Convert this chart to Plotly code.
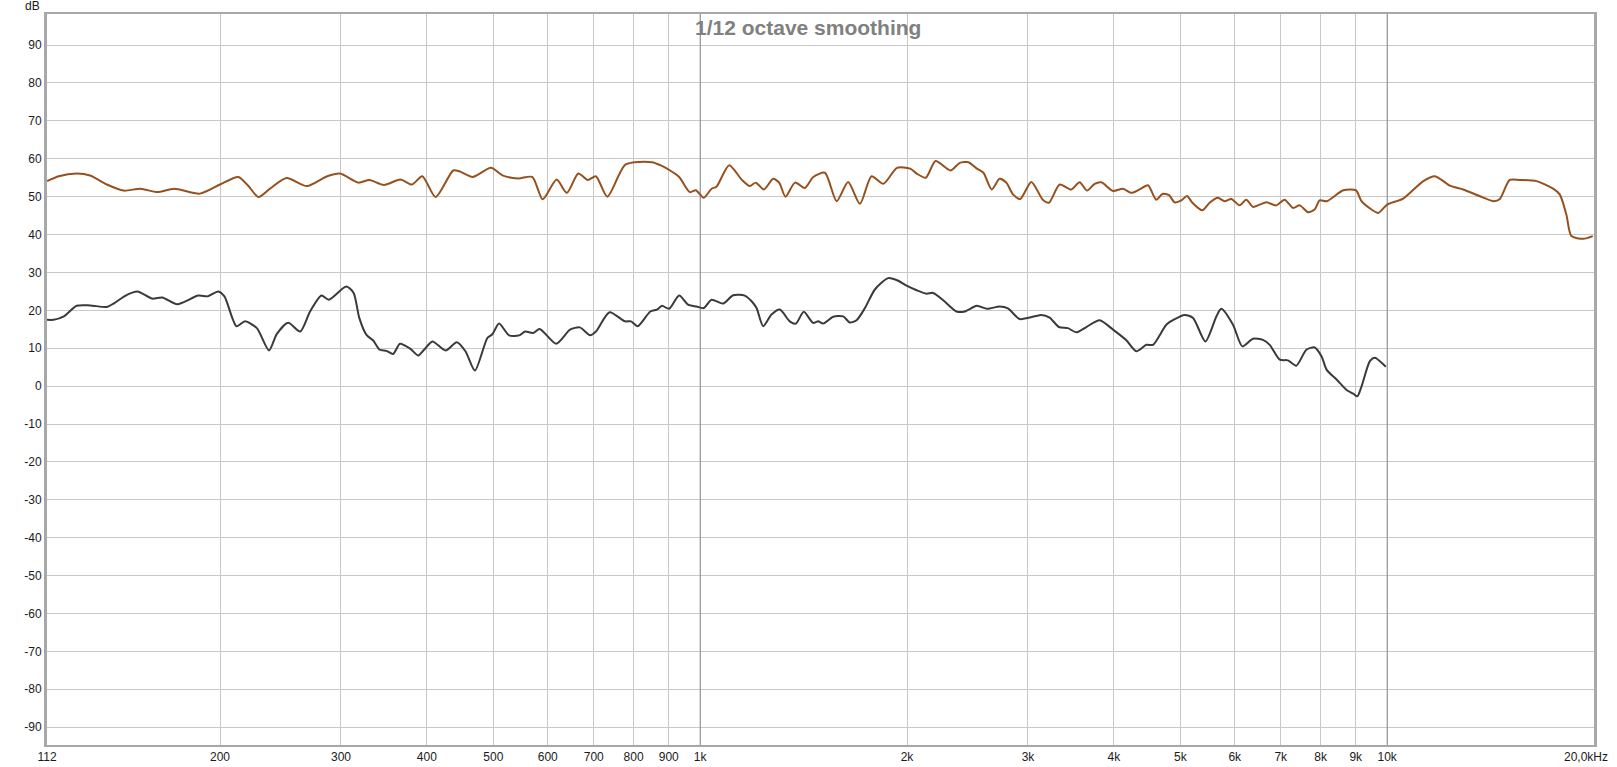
import plotly.graph_objects as go
import math

# ---------------- data ----------------
orange_freq = [112, 116.5, 123.7, 129.4, 136.9, 144.8, 153.2, 162.1, 171.5, 187, 200, 212.6, 220, 227.5,
               236.5, 250, 267.6, 286.5, 299, 318, 330, 346.5, 366, 380.6, 394, 412, 437, 446, 466.5, 496,
               515.6, 543.5, 569.5, 590, 618, 639.6, 664.6, 686, 705, 732.5, 779, 851, 875, 904, 932,
               966, 985.6, 1012, 1039, 1056, 1102, 1149, 1181, 1205, 1238, 1277, 1303, 1331, 1374, 1420,
               1461, 1519, 1580, 1642, 1708, 1776, 1848, 1934, 2021, 2066, 2130, 2201, 2314, 2387, 2457,
               2528, 2584, 2657, 2728, 2790, 2853, 2924, 3034, 3155, 3219, 3336, 3469, 3567, 3657, 3751,
               3836, 3990, 4125, 4243, 4362, 4485, 4611, 4707, 4813, 4905, 5016, 5112, 5205, 5382, 5514,
               5670, 5799, 5931, 6099, 6235, 6377, 6523, 6670, 6895, 7090, 7294, 7459, 7669, 7842, 7974,
               8166, 8634, 9002, 9176, 9488, 9703, 10000, 10550, 11286, 11736, 12340, 12900, 13650, 14300,
               14590, 15080, 15600, 16500, 17440, 17830, 18230, 18540, 19300, 19920]
orange_db = [54.1, 55.4, 56.1, 55.6, 53.2, 51.6, 52.1, 51.2, 52.1, 50.8, 53.2, 55.2, 52.8, 49.9,
             52.1, 54.9, 52.8, 55.4, 56.1, 53.7, 54.4, 53.1, 54.5, 53.2, 55.4, 49.9, 56.9, 56.7, 55.2, 57.6,
             55.6, 54.8, 55.2, 49.3, 54.5, 51.0, 56.1, 54.4, 55.4, 50.0, 58.5, 59.1, 58.3, 56.9, 55.2,
             51.2, 51.7, 49.7, 52.1, 52.6, 58.3, 54.5, 52.8, 53.7, 51.9, 54.7, 53.7, 50.0, 53.7, 52.3,
             55.2, 56.3, 48.8, 53.9, 48.1, 55.4, 53.4, 57.6, 57.4, 56.1, 55.0, 59.4, 56.9, 58.9, 59.1,
             57.4, 56.3, 51.9, 54.7, 53.7, 50.6, 49.4, 53.9, 49.1, 48.4, 53.2, 51.9, 53.8, 51.6, 53.4,
             53.8, 51.5, 52.1, 51.0, 51.9, 53.0, 49.2, 50.7, 50.4, 48.5, 49.0, 50.2, 48.4, 46.4, 48.4,
             49.7, 48.8, 49.4, 47.7, 49.2, 47.3, 47.9, 48.5, 47.7, 49.2, 47.0, 47.7, 45.9, 46.6, 49.0,
             48.8, 51.7, 51.7, 48.8, 46.6, 45.7, 47.9, 49.5, 54.1, 55.4, 52.9, 51.9, 50.1, 48.8,
             49.4, 54.4, 54.4, 54.1, 52.1, 50.6, 45.3, 39.6, 38.9, 39.6]

black_freq = [112, 114.5, 118.5, 123.7, 129.4, 136.9, 140, 146.4, 151.7, 159.3, 164.8, 173.3, 186, 192,
              198.8, 203, 211.4, 217.5, 226.3, 235.7, 242, 251.4, 261.6, 270.5, 281, 288, 305.3, 313, 319,
              326.8, 334, 341.6, 349.4, 357.4, 365.6, 378.3, 388.6, 396.3, 407.6, 426, 442.3, 455.3, 470,
              490, 498.3, 509.6, 527, 545, 556.4, 571, 584, 617, 646.5, 668, 691.5, 705, 738, 777, 793,
              811, 846, 865, 880, 901, 932, 960, 988, 1012, 1039, 1080, 1117, 1161, 1188, 1208, 1235,
              1270, 1306, 1350, 1378, 1415, 1460, 1485, 1510, 1562, 1615, 1651, 1689, 1737, 1796, 1878,
              1942, 1997, 2066, 2135, 2183, 2260, 2361, 2428, 2528, 2615, 2728, 2805, 2917, 3017, 3137,
              3226, 3328, 3430, 3527, 3648, 3815, 3990, 4171, 4313, 4461, 4561, 4769, 4877, 5071, 5217,
              5437, 5641, 5735, 5964, 6154, 6377, 6594, 6745, 6975, 7170, 7374, 7627, 7842, 8023, 8166,
              8445, 8727, 8925, 9046, 9176, 9436, 9592, 9955]
black_db = [17.5, 17.5, 18.4, 21.2, 21.3, 20.9, 21.8, 24.1, 25.0, 23.1, 23.4, 21.6, 23.9, 23.7,
            25.0, 23.7, 15.8, 17.1, 15.3, 9.4, 13.8, 16.7, 14.4, 19.7, 23.9, 22.8, 26.3, 24.6, 18.0,
            13.5, 12.1, 9.6, 9.3, 8.5, 11.2, 9.9, 8.1, 9.6, 11.8, 9.4, 11.6, 9.2, 4.1,
            12.7, 13.7, 16.5, 13.4, 13.4, 14.4, 14.0, 15.1, 11.2, 14.9, 15.5, 13.4, 14.4, 19.5, 17.1, 17.1,
            15.8, 19.7, 20.2, 21.2, 20.4, 23.9, 21.5, 21.0, 20.6, 22.8, 21.8, 24.0, 23.9, 22.4, 20.6, 15.8,
            18.9, 20.2, 17.1, 16.5, 19.6, 16.7, 17.1, 16.5, 18.3, 18.4, 16.8, 17.4, 20.6, 25.5, 28.5,
            27.8, 26.5, 25.3, 24.4, 24.6, 22.6, 19.7, 19.7, 21.2, 20.4, 21.0, 20.5, 17.7, 18.1, 18.8,
            18.1, 15.6, 15.3, 14.2, 15.6, 17.4, 14.9, 12.1, 9.2, 10.9, 10.9, 16.2, 17.4, 18.8, 18.0,
            11.8, 18.4, 20.4, 16.2, 10.5, 12.5, 12.2, 10.9, 7.0, 6.8, 5.4, 9.6, 10.2, 7.9, 4.3,
            1.7, -1.0, -2.0, -2.7, -0.1, 6.6, 7.5, 5.1]

x_tick_vals = [112, 200, 300, 400, 500, 600, 700, 800, 900, 1000, 2000, 3000, 4000, 5000, 6000,
               7000, 8000, 9000, 10000, 20000]
x_tick_text = ["112", "200", "300", "400", "500", "600", "700", "800", "900", "1k", "2k", "3k", "4k",
               "5k", "6k", "7k", "8k", "9k", "10k", "20,0kHz"]
y_tick_vals = list(range(-90, 100, 10))
y_tick_text = [str(v) for v in y_tick_vals]
major_freqs = [1000, 10000]

F_MIN, F_MAX = 112, 20000
Y_MIN, Y_MAX = -94.7, 98.2

# ---------------- figure ----------------
fig = go.Figure()

for f in major_freqs:
    fig.add_trace(go.Scatter(x=[f, f], y=[Y_MIN, Y_MAX], mode="lines",
                             line=dict(color="#8c8c8c", width=1), hoverinfo="skip", showlegend=False))

fig.add_trace(go.Scatter(x=orange_freq, y=orange_db, mode="lines",
                         line=dict(color="#96501E", width=2, shape="spline", smoothing=0.7),
                         showlegend=False))
fig.add_trace(go.Scatter(x=black_freq, y=black_db, mode="lines",
                         line=dict(color="#3a3a3a", width=2, shape="spline", smoothing=0.7),
                         showlegend=False))

font_main = dict(family="Liberation Sans, Arial, sans-serif", size=12, color="#1a1a1a")

# last tick label is drawn right-aligned (as in the reference) instead of centred on the edge
tick_text_axis = x_tick_text[:-1] + [""]

fig.update_layout(
    template="none",
    width=1617, height=767,
    margin=dict(l=47, r=23, t=14, b=22, pad=0, autoexpand=False),
    paper_bgcolor="white", plot_bgcolor="white",
    font=font_main,
    showlegend=False,
    xaxis=dict(type="log", range=[math.log10(F_MIN), math.log10(F_MAX)],
               tickmode="array", tickvals=x_tick_vals, ticktext=tick_text_axis,
               showgrid=True, gridcolor="#c8c8c8", gridwidth=1, zeroline=False,
               showline=True, mirror=True, linecolor="#a8a8a8", linewidth=2,
               ticks="", tickfont=font_main, automargin=False),
    yaxis=dict(range=[Y_MIN, Y_MAX], tickmode="array", tickvals=y_tick_vals, ticktext=y_tick_text,
               showgrid=True, gridcolor="#c8c8c8", gridwidth=1, zeroline=False,
               showline=True, mirror=True, linecolor="#a8a8a8", linewidth=3,
               ticks="", tickfont=font_main, automargin=False),
    annotations=[
        dict(text="<b>1/12 octave smoothing</b>", xref="paper", yref="paper",
             x=0.4922, y=0.982, xanchor="center", yanchor="middle", showarrow=False,
             font=dict(family="Liberation Sans, Arial, sans-serif", size=21, color="#808080")),
        dict(text="dB", xref="paper", yref="paper", x=-0.003, y=1.0105,
             xanchor="right", yanchor="middle", showarrow=False, font=font_main),
        dict(text=x_tick_text[-1], xref="paper", yref="paper", x=1.0103, y=-0.0164,
             xanchor="right", yanchor="middle", showarrow=False, font=font_main),
    ],
)

fig.write_html("out.html",
               config={"displayModeBar": False},
               post_script="document.body.style.margin='0px';document.body.style.overflow='hidden';")
